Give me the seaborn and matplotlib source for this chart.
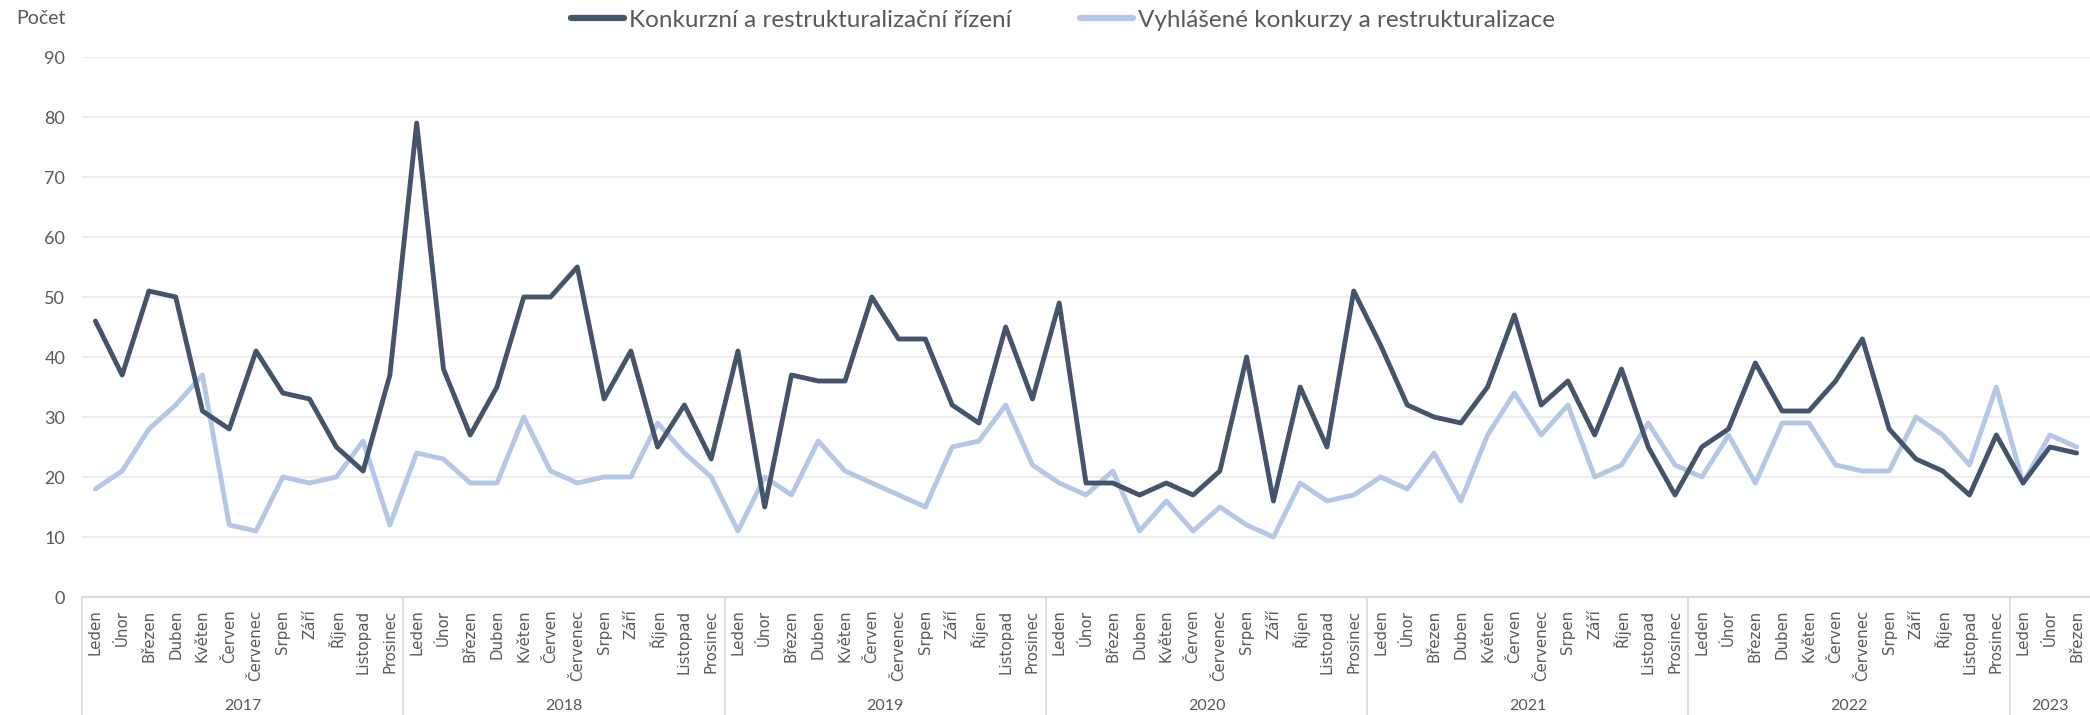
import pandas as pd
import numpy as np
import matplotlib
matplotlib.use("Agg")
import matplotlib.pyplot as plt
import matplotlib.transforms as mtransforms
import seaborn as sns

# Month names and years on the two-level x axis
months = ['Leden', 'Únor', 'Březen', 'Duben', 'Květen', 'Červen', 'Červenec',
          'Srpen', 'Září', 'Říjen', 'Listopad', 'Prosinec']
years = ['2017', '2018', '2019', '2020', '2021', '2022', '2023']
months_per_year = [12, 12, 12, 12, 12, 12, 3]

# Series values
rizeni = [46, 37, 51, 50, 31, 28, 41, 34, 33, 25, 21, 37,
          79, 38, 27, 35, 50, 50, 55, 33, 41, 25, 32, 23,
          41, 15, 37, 36, 36, 50, 43, 43, 32, 29, 45, 33,
          49, 19, 19, 17, 19, 17, 21, 40, 16, 35, 25, 51,
          42, 32, 30, 29, 35, 47, 32, 36, 27, 38, 25, 17,
          25, 28, 39, 31, 31, 36, 43, 28, 23, 21, 17, 27,
          19, 25, 24]
vyhlasene = [18, 21, 28, 32, 37, 12, 11, 20, 19, 20, 26, 12,
             24, 23, 19, 19, 30, 21, 19, 20, 20, 29, 24, 20,
             11, 20, 17, 26, 21, 19, 17, 15, 25, 26, 32, 22,
             19, 17, 21, 11, 16, 11, 15, 12, 10, 19, 16, 17,
             20, 18, 24, 16, 27, 34, 27, 32, 20, 22, 29, 22,
             20, 27, 19, 29, 29, 22, 21, 21, 30, 27, 22, 35,
             19, 27, 25]

label_dark = 'Konkurzní a restrukturalizační řízení'
label_light = 'Vyhlášené konkurzy a restrukturalizace'
dark = '#44546a'
light = '#b4c7e7'
grey_text = '#595959'

sns.set_style("white")
plt.rcParams['font.family'] = ['Lato', 'DejaVu Sans']

month_labels = []
for n in months_per_year:
    month_labels += months[:n]
df = pd.DataFrame({'pos': np.arange(len(rizeni)),
                   label_dark: rizeni,
                   label_light: vyhlasene})
long = df.melt(id_vars='pos', var_name='serie', value_name='pocet')

fig = plt.figure(figsize=(20.9, 7.15), dpi=100)
ax = fig.add_axes([82 / 2090, 1 - 597 / 715, 1 - 82 / 2090, (597 - 57) / 715])

sns.lineplot(data=long, x='pos', y='pocet', hue='serie',
             palette={label_dark: dark, label_light: light},
             hue_order=[label_light, label_dark],
             linewidth=3.5, ax=ax, legend=False)
for ln in ax.lines:
    ln.set_solid_capstyle('round')
    ln.set_solid_joinstyle('round')

ax.set_xlim(-0.5, len(rizeni) - 0.5)
ax.set_ylim(0, 90)
ax.set_yticks(range(0, 91, 10))
ax.yaxis.grid(True, color='#eeeeee', linewidth=1.6)
ax.set_axisbelow(True)
ax.set_xticks(df['pos'])
ax.set_xticklabels(month_labels, rotation=90, family='DejaVu Sans',
                   fontsize=10.8, color=grey_text)
ax.tick_params(axis='x', length=0, pad=9)
ax.tick_params(axis='y', length=0, pad=12, labelsize=13, labelcolor=grey_text)
ax.set_xlabel('')
ax.set_ylabel('')
for side in ['top', 'right', 'left']:
    ax.spines[side].set_visible(False)
ax.spines['bottom'].set_color('#d9d9d9')
ax.spines['bottom'].set_linewidth(1.5)

# year separators and year labels below the month labels
trans = mtransforms.blended_transform_factory(ax.transData, fig.transFigure)
bottom = 1 - 597 / 715
start = 0
for yr, n in zip(years, months_per_year):
    ax.plot([start - 0.5, start - 0.5], [0, bottom], transform=trans,
            color='#d9d9d9', linewidth=1.2, clip_on=False)
    ax.text(start + (n - 1) / 2, 0.012, yr, transform=trans, ha='center',
            va='center', fontsize=11.5, color=grey_text)
    start += n

fig.text(16 / 2090, 1 - 18 / 715, 'Počet', ha='left', va='center',
         fontsize=14, color=grey_text)

handles = [plt.Line2D([], [], color=dark, linewidth=4.5, solid_capstyle='round'),
           plt.Line2D([], [], color=light, linewidth=4.5, solid_capstyle='round')]
fig.legend(handles, [label_dark, label_light], loc='center',
           bbox_to_anchor=(1063 / 2090, 1 - 20 / 715), ncol=2, frameon=False,
           fontsize=17.5, labelcolor=grey_text, handlelength=2.15,
           handletextpad=0.2, columnspacing=2.85)

fig.savefig('out.png', dpi=100)
